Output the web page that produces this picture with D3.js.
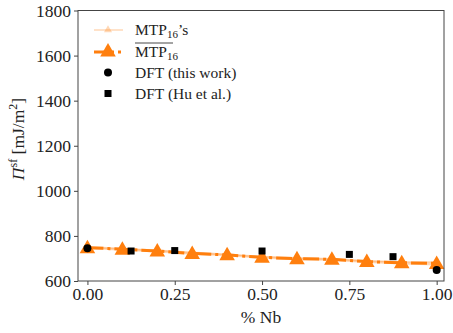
<!DOCTYPE html>
<html><head><meta charset="utf-8">
<script src="https://cdn.jsdelivr.net/npm/d3@7"></script>
<style>body{margin:0;background:#fff}svg{display:block}text{font-family:"Liberation Serif",serif;fill:#222}</style>
</head><body><div id="chart"></div>
<script>
const xFrac = [0, 0.1, 0.2, 0.3, 0.4, 0.5, 0.6, 0.7, 0.8, 0.9, 1.0];
const mtpMean = [748, 741, 733, 722, 716, 705, 699, 696, 686, 681, 678];
const mtpA = [752, 744, 736, 727, 719, 709, 703, 699, 690, 685, 684];
const mtpB = [745, 738, 730, 720, 713, 702, 696, 692, 683, 677, 672];
const mtpC = [749, 742, 734, 724, 717, 706, 700, 697, 688, 682, 679];
const dftThisX = [0, 1];
const dftThisY = [745, 649];
const dftHuX = [0.125, 0.25, 0.5, 0.75, 0.875];
const dftHuY = [733, 735, 733, 718, 708];
const xTicks = [0, 0.25, 0.5, 0.75, 1.0];
const yTicks = [600, 800, 1000, 1200, 1400, 1600, 1800];

const W = 453, H = 333;
const m = {l: 78, r: 9, t: 10.5, b: 52};
const orange = "#ff7f0e";
const FONT = '"Liberation Serif", serif';
const svg = d3.select("#chart").append("svg").attr("width", W).attr("height", H);
const x = d3.scaleLinear().domain([-0.027, 1.021]).range([m.l, W - m.r]);
const y = d3.scaleLinear().domain([600, 1800]).range([H - m.b, m.t]);

const tri = d3.symbol().type(d3.symbolTriangle);

// individual MTP lines
[mtpA, mtpB, mtpC].forEach(s => {
  const pts = xFrac.map((v, i) => [x(v), y(s[i])]);
  svg.append("path").attr("d", d3.line()(pts)).attr("fill", "none")
    .attr("stroke", orange).attr("stroke-opacity", 0.3).attr("stroke-width", 1.5);
  svg.append("g").selectAll("path").data(pts).join("path")
    .attr("d", tri.size(28)()).attr("transform", d => `translate(${d[0]},${d[1]})`)
    .attr("fill", orange).attr("fill-opacity", 0.3);
});

// mean line
const meanPts = xFrac.map((v, i) => [x(v), y(mtpMean[i])]);
svg.append("path").attr("d", d3.line()(meanPts)).attr("fill", "none")
  .attr("stroke", orange).attr("stroke-width", 3).attr("stroke-dasharray", "16,4,3,4");
svg.append("g").selectAll("path").data(meanPts).join("path")
  .attr("d", tri.size(105)()).attr("transform", d => `translate(${d[0]},${d[1] + 1})`)
  .attr("fill", orange);

// DFT Hu squares
svg.append("g").selectAll("rect").data(dftHuX.map((v, i) => [x(v), y(dftHuY[i])])).join("rect")
  .attr("x", d => d[0] - 3.5).attr("y", d => d[1] - 3.5).attr("width", 7).attr("height", 7).attr("fill", "#000");
// DFT this work circles
svg.append("g").selectAll("circle").data(dftThisX.map((v, i) => [x(v), y(dftThisY[i])])).join("circle")
  .attr("cx", d => d[0]).attr("cy", d => d[1]).attr("r", 4).attr("fill", "#000");

// frame
svg.append("rect").attr("x", m.l).attr("y", m.t).attr("width", W - m.r - m.l).attr("height", H - m.b - m.t)
  .attr("fill", "none").attr("stroke", "#444").attr("stroke-width", 1);

// axes
const xa = svg.append("g").attr("transform", `translate(0,${H - m.b})`)
  .call(d3.axisBottom(x).tickValues(xTicks).tickFormat(d3.format(".2f")).tickSize(4).tickPadding(3));
const ya = svg.append("g").attr("transform", `translate(${m.l},0)`)
  .call(d3.axisLeft(y).tickValues(yTicks).tickFormat(d3.format("d")).tickSize(4).tickPadding(3));
[xa, ya].forEach(a => {
  a.attr("font-family", null).attr("font-size", null);
  a.select(".domain").remove();
  a.selectAll(".tick line").attr("stroke", "#444");
  a.selectAll("text").style("font-size", "17.5px").style("font-family", FONT).attr("fill", "#333");
});

// axis labels
svg.append("text").attr("x", (m.l + W - m.r) / 2).attr("y", 323).attr("text-anchor", "middle")
  .style("font-size", "17.5px").style("font-family", FONT).attr("fill", "#333").text("% Nb");
const yl = svg.append("text").attr("transform", "translate(24,139) rotate(-90)").attr("text-anchor", "middle")
  .style("font-size", "17.5px").style("font-family", FONT).attr("fill", "#333");
yl.append("tspan").style("font-style", "italic").text("Π");
yl.append("tspan").attr("dy", -7).style("font-size", "12px").text("sf");
yl.append("tspan").attr("dy", 7).text(" [mJ/m");
yl.append("tspan").attr("dy", -7).style("font-size", "12px").text("2");
yl.append("tspan").attr("dy", 7).text("]");

// legend
const lg = svg.append("g");
const lx1 = 94, lx2 = 123, lc = 108, tx = 135;
const rows = [30, 52, 72.5, 93.5];
lg.append("line").attr("x1", lx1).attr("x2", lx2).attr("y1", rows[0]).attr("y2", rows[0])
  .attr("stroke", orange).attr("stroke-opacity", 0.3).attr("stroke-width", 1.5);
lg.append("path").attr("d", tri.size(28)()).attr("transform", `translate(${lc},${rows[0]})`)
  .attr("fill", orange).attr("fill-opacity", 0.3);
lg.append("line").attr("x1", lx1).attr("x2", lx2).attr("y1", rows[1]).attr("y2", rows[1])
  .attr("stroke", orange).attr("stroke-width", 3).attr("stroke-dasharray", "20,4,3,4");
lg.append("path").attr("d", tri.size(105)()).attr("transform", `translate(${lc},${rows[1]})`).attr("fill", orange);
lg.append("circle").attr("cx", lc).attr("cy", rows[2]).attr("r", 4).attr("fill", "#000");
lg.append("rect").attr("x", lc - 3.5).attr("y", rows[3] - 3.5).attr("width", 7).attr("height", 7).attr("fill", "#000");

function legText(yy) { return lg.append("text").attr("x", tx).attr("y", yy + 5).style("font-size", "15.5px").style("font-family", FONT).attr("fill", "#333"); }
let t0 = legText(rows[0]);
t0.append("tspan").text("MTP");
t0.append("tspan").attr("dy", 3).style("font-size", "11px").text("16");
t0.append("tspan").attr("dy", -3).text("’s");
let t1 = legText(rows[1]);
t1.append("tspan").text("MTP");
t1.append("tspan").attr("dy", 3).style("font-size", "11px").text("16");
lg.append("line").attr("x1", tx).attr("x2", tx + 38).attr("y1", rows[1] - 9).attr("y2", rows[1] - 9)
  .attr("stroke", "#333").attr("stroke-width", 0.9);
legText(rows[2]).text("DFT (this work)");
legText(rows[3]).text("DFT (Hu et al.)");
</script></body></html>
